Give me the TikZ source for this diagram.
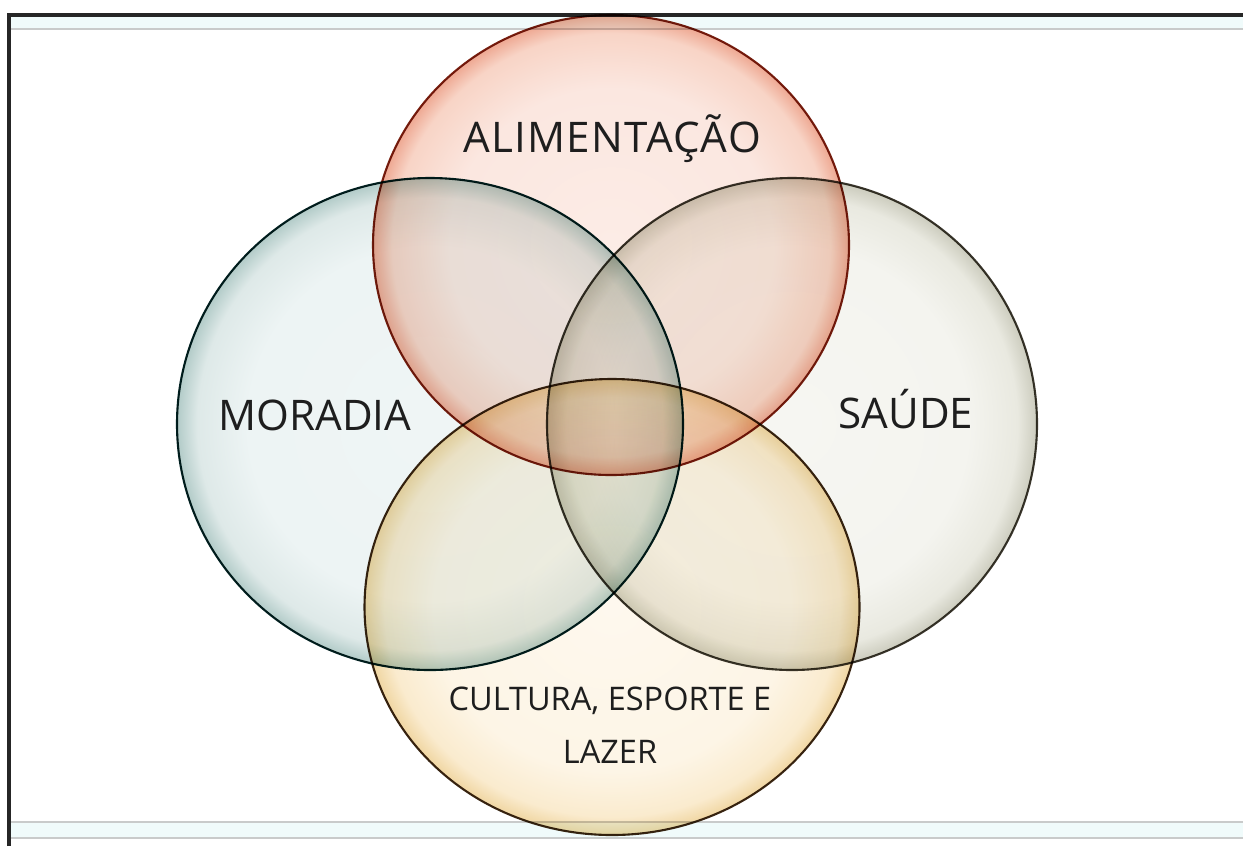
\documentclass[tikz,border=0pt]{standalone}
\usepackage{fontspec}
\setmainfont{Open Sans}
\usetikzlibrary{shapes.geometric}

\definecolor{frameGray}{HTML}{C9CBCB}
\definecolor{bandCyan}{HTML}{F0FBFB}
\definecolor{textDark}{HTML}{1E1E1E}

% inner-glow fills for the four sets
\pgfdeclareradialshading{moradiaGlow}{\pgfpoint{0bp}{0bp}}{%
  color(0bp)=(rgb,255:red,239;green,245;blue,245); color(18bp)=(rgb,255:red,237;green,244;blue,244);
  color(23bp)=(rgb,255:red,222;green,233;blue,232); color(25bp)=(rgb,255:red,178;green,203;blue,200);
  color(50bp)=(rgb,255:red,178;green,203;blue,200)}
\pgfdeclareradialshading{alimentGlow}{\pgfpoint{0bp}{0bp}}{%
  color(0bp)=(rgb,255:red,252;green,236;blue,230); color(17bp)=(rgb,255:red,251;green,231;blue,224);
  color(23bp)=(rgb,255:red,248;green,212;blue,198); color(25bp)=(rgb,255:red,238;green,168;blue,146);
  color(50bp)=(rgb,255:red,238;green,168;blue,146)}
\pgfdeclareradialshading{saudeGlow}{\pgfpoint{0bp}{0bp}}{%
  color(0bp)=(rgb,255:red,246;green,246;blue,242); color(18bp)=(rgb,255:red,244;green,244;blue,239);
  color(23bp)=(rgb,255:red,233;green,233;blue,224); color(25bp)=(rgb,255:red,204;green,204;blue,190);
  color(50bp)=(rgb,255:red,204;green,204;blue,190)}
\pgfdeclareradialshading{culturaGlow}{\pgfpoint{0bp}{0bp}}{%
  color(0bp)=(rgb,255:red,254;green,248;blue,238); color(18bp)=(rgb,255:red,253;green,245;blue,230);
  color(23bp)=(rgb,255:red,250;green,235;blue,206); color(25bp)=(rgb,255:red,240;green,214;blue,162);
  color(50bp)=(rgb,255:red,240;green,214;blue,162)}

\begin{document}
\begin{tikzpicture}[
    x=0.02cm, y=-0.02cm,
    setBubble/.style={
        ellipse, inner sep=0pt, line width=1.2pt, blend mode=multiply
    },
    moradiaSet/.style={setBubble, draw=black!75!teal, shading=moradiaGlow},
    alimentSet/.style={setBubble, draw=black!62!red!75!brown, shading=alimentGlow},
    saudeSet/.style={setBubble, draw=black!78!olive, shading=saudeGlow},
    culturaSet/.style={setBubble, draw=black!70!brown, shading=culturaGlow},
    setLabel/.style={text=textDark, font=\fontsize{24}{28}\selectfont, anchor=base},
    smallLabel/.style={text=textDark, font=\fontsize{18.5}{30}\selectfont, align=center}
]
    \useasboundingbox (0,0) rectangle (1243,846);
    \fill[white] (0,0) rectangle (1243,846);

    % --- window frame ---
    \fill[bandCyan] (11,16) rectangle (1243,29);
    \fill[bandCyan] (11,822) rectangle (1243,838);
    \draw[frameGray, line width=1.4pt] (11,29) -- (1243,29);
    \draw[frameGray, line width=1.4pt] (11,822) -- (1243,822);
    \draw[frameGray, line width=1.4pt] (11,838) -- (1243,838);
    \draw[black!85, line width=2.2pt] (9,846) -- (9,15) -- (1243,15);

    % --- 1. Moradia ---
    \node[moradiaSet, shade, minimum width=506*0.02cm, minimum height=492*0.02cm] (moradia) at (430,424) {};
    % --- 2. Saude ---
    \node[saudeSet, shade, minimum width=490*0.02cm, minimum height=492*0.02cm] (saude) at (792,424) {};
    % --- 3. Alimentacao ---
    \node[alimentSet, shade, minimum width=476*0.02cm, minimum height=460*0.02cm] (aliment) at (611,245) {};
    % --- 4. Cultura, esporte e lazer ---
    \node[culturaSet, shade, minimum width=495*0.02cm, minimum height=456*0.02cm] (cultura) at (612,607) {};

    % --- labels ---
    \node[setLabel] (alimentText) at (612,152) {\addfontfeature{LetterSpace=3}ALIMENTAÇÃO};
    \node[setLabel] (moradiaText) at (315,430) {MORADIA};
    \node[setLabel] (saudeText) at (906,428) {SAÚDE};
    \node[smallLabel, anchor=base] (culturaText) at (610,763) {CULTURA, ESPORTE E\\LAZER};
\end{tikzpicture}
\end{document}
